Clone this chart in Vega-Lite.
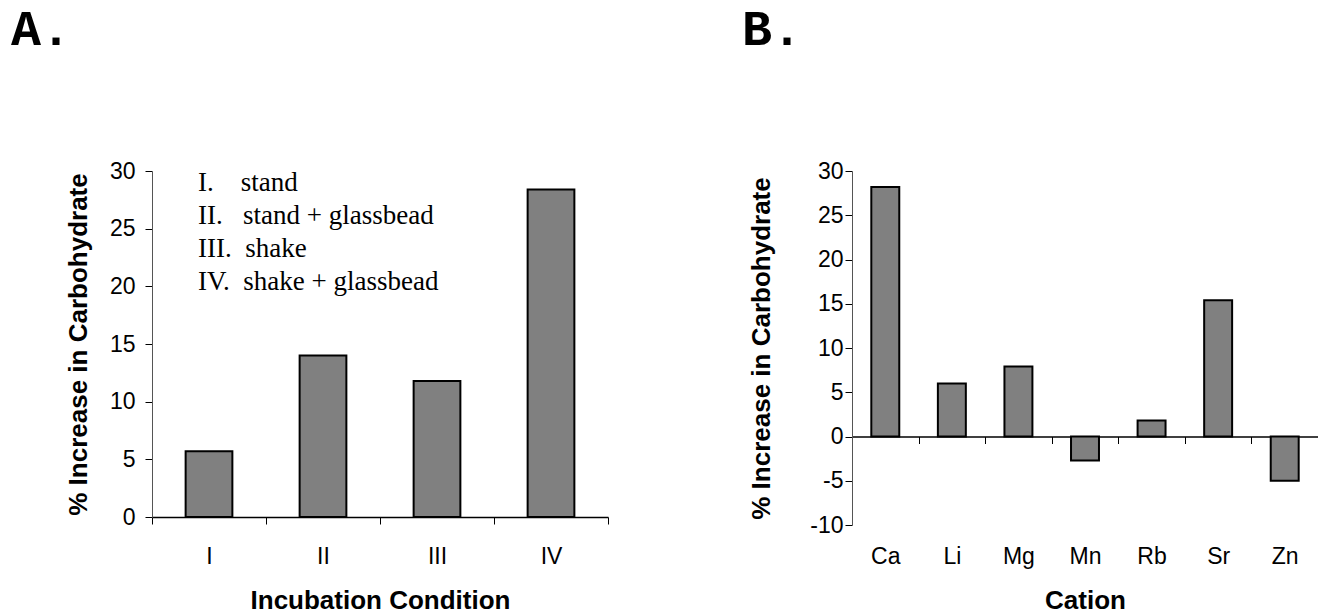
{
  "$schema": "https://vega.github.io/schema/vega-lite/v6.json",
  "background": "white",
  "padding": {"left": 11, "top": 5, "right": 0, "bottom": 0},
  "spacing": 244,
  "bounds": "flush",
  "config": {
    "view": {"stroke": null},
    "font": "Liberation Sans",
    "axis": {
      "labelFont": "Liberation Sans",
      "labelFontSize": 23,
      "labelColor": "black",
      "titleFont": "Liberation Sans",
      "titleFontSize": 26,
      "titleFontWeight": "bold",
      "titleColor": "black",
      "tickColor": "black",
      "tickSize": 7,
      "domainColor": "black",
      "grid": false
    }
  },
  "hconcat": [
    {
      "width": 456,
      "height": 346,
      "title": {"text": "A.", "font": "Liberation Mono", "fontSize": 50, "fontWeight": "bold", "color": "black", "anchor": "start", "frame": "group", "dx": -141, "offset": 65, "baseline": "alphabetic"},
      "data": {"values": [
        {"condition": "I", "label": "I.\u00a0\u00a0\u00a0\u00a0stand", "increase": 5.7},
        {"condition": "II", "label": "II.\u00a0\u00a0\u00a0stand + glassbead", "increase": 14.0},
        {"condition": "III", "label": "III.\u00a0\u00a0shake", "increase": 11.8},
        {"condition": "IV", "label": "IV.\u00a0\u00a0shake + glassbead", "increase": 28.4}
      ]},
      "mark": {"type": "bar", "stroke": "black", "strokeWidth": 2, "width": {"band": 0.41}},
      "encoding": {
        "x": {"field": "condition", "type": "nominal", "sort": null,
          "scale": {"paddingInner": 0, "paddingOuter": 0},
          "axis": {"title": "Incubation Condition", "labelAngle": 0, "tickBand": "extent", "labelPadding": 21, "titlePadding": 19, "domainWidth": 1.5}},
        "y": {"field": "increase", "type": "quantitative",
          "scale": {"domain": [0, 30], "nice": false},
          "axis": {"title": "% Increase in Carbohydrate", "values": [0, 5, 10, 15, 20, 25, 30], "labelPadding": 10, "titlePadding": 18, "domainColor": "#555"}},
        "color": {"field": "label", "type": "nominal",
          "scale": {"range": ["#808080"]},
          "legend": {"title": null, "orient": "none", "legendX": 19, "legendY": -2, "padding": 0, "symbolSize": 0, "symbolStrokeWidth": 0, "symbolOpacity": 0, "labelOffset": 0, "labelFont": "Liberation Serif", "labelFontSize": 27, "labelColor": "black", "labelLimit": 0, "rowPadding": 5}}
      }
    },
    {
      "width": 466,
      "height": 354,
      "title": {"text": "B.", "font": "Liberation Mono", "fontSize": 50, "fontWeight": "bold", "color": "black", "anchor": "start", "frame": "group", "dx": -110, "offset": 65, "baseline": "alphabetic"},
      "data": {"values": [
        {"cation": "Ca", "increase": 28.2},
        {"cation": "Li", "increase": 6.0},
        {"cation": "Mg", "increase": 7.9},
        {"cation": "Mn", "increase": -2.7},
        {"cation": "Rb", "increase": 1.8},
        {"cation": "Sr", "increase": 15.4},
        {"cation": "Zn", "increase": -5.0}
      ]},
      "mark": {"type": "bar", "fill": "#808080", "stroke": "black", "strokeWidth": 2, "width": {"band": 0.42}},
      "encoding": {
        "x": {"field": "cation", "type": "nominal", "sort": null,
          "scale": {"paddingInner": 0, "paddingOuter": 0},
          "axis": {"title": "Cation", "labelAngle": 0, "tickBand": "extent", "offset": -88.5, "labelPadding": 102, "titlePadding": 19, "domainWidth": 1.5}},
        "y": {"field": "increase", "type": "quantitative",
          "scale": {"domain": [-10, 30], "nice": false},
          "axis": {"title": "% Increase in Carbohydrate", "values": [-10, -5, 0, 5, 10, 15, 20, 25, 30], "labelExpr": "'' + datum.value", "labelPadding": 2, "titlePadding": 35, "domainColor": "#555"}}
      }
    }
  ]
}
